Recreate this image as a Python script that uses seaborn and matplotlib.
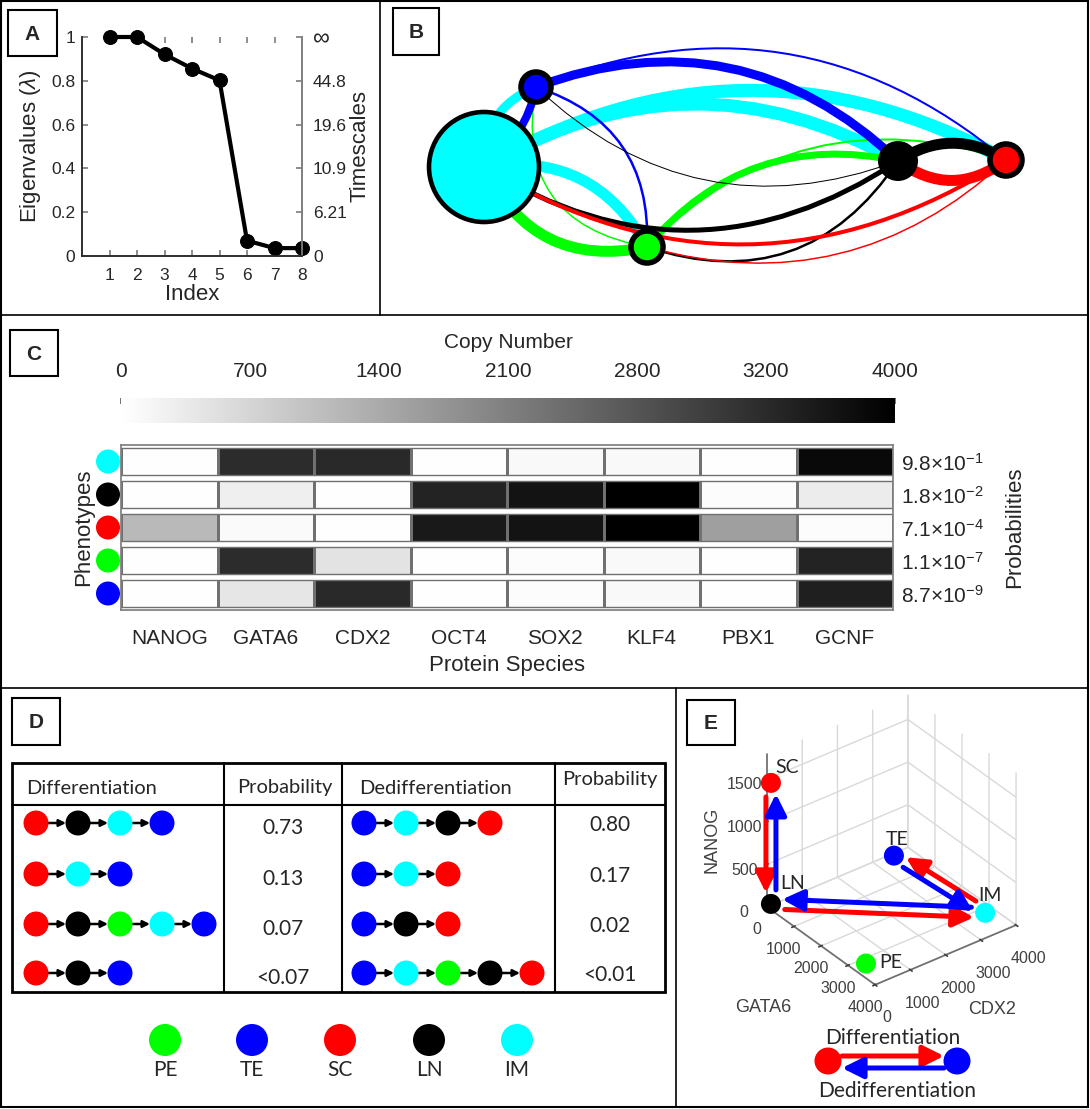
import numpy as np
import pandas as pd
import matplotlib
matplotlib.use('Agg')
import matplotlib.pyplot as plt
import seaborn as sns
from matplotlib.patches import Circle, Rectangle, PathPatch
from matplotlib.path import Path
from mpl_toolkits.mplot3d import proj3d

# ---------------- data ----------------
# A: eigenvalue spectrum
eig_index = [1, 2, 3, 4, 5, 6, 7, 8]
eigenvalues = [1.0, 1.0, 0.921, 0.856, 0.802, 0.07, 0.036, 0.036]
eig_ticks = [0, 0.2, 0.4, 0.6, 0.8, 1]
eig_ticklabels = ['0', '0.2', '0.4', '0.6', '0.8', '1']
timescale_labels = ['0', '6.21', '10.9', '19.6', '44.8', '∞']

pheno_colors = {'PE': '#00ff00', 'TE': '#0000ff', 'SC': '#ff0000',
                'LN': '#000000', 'IM': '#00ffff'}
legend_order = ['PE', 'TE', 'SC', 'LN', 'IM']

# B: transition network, edge weight = line width (px)
edge_src = ['IM', 'IM', 'IM', 'IM', 'PE', 'PE', 'PE', 'PE', 'TE', 'TE',
            'TE', 'TE', 'LN', 'LN', 'LN', 'LN', 'SC', 'SC', 'SC']
edge_dst = ['SC', 'LN', 'PE', 'TE', 'IM', 'LN', 'SC', 'TE', 'LN', 'SC',
            'PE', 'IM', 'IM', 'TE', 'PE', 'SC', 'LN', 'IM', 'PE']
edge_weight = [13, 13, 11, 9, 11, 7, 2, 1.5, 9, 2,
               2.5, 8, 5, 1, 2.5, 11, 11, 4, 1.5]
node_prob_size = {'IM': 55, 'TE': 15, 'PE': 16, 'LN': 20, 'SC': 16}

# C: copy numbers per phenotype
species = ['NANOG', 'GATA6', 'CDX2', 'OCT4', 'SOX2', 'KLF4', 'PBX1', 'GCNF']
heat_rows = ['IM', 'LN', 'SC', 'PE', 'TE']
copy_IM = [30, 3300, 3350, 30, 100, 100, 30, 3850]
copy_LN = [30, 250, 30, 3450, 3700, 4000, 60, 300]
copy_SC = [1100, 80, 30, 3600, 3700, 4000, 1500, 60]
copy_PE = [30, 3300, 450, 30, 60, 100, 30, 3450]
copy_TE = [30, 400, 3350, 30, 60, 100, 30, 3500]
prob_labels = [r'$\mathregular{9.8{\times}10^{-1}}$', r'$\mathregular{1.8{\times}10^{-2}}$',
               r'$\mathregular{7.1{\times}10^{-4}}$', r'$\mathregular{1.1{\times}10^{-7}}$',
               r'$\mathregular{8.7{\times}10^{-9}}$']
cbar_labels = ['0', '700', '1400', '2100', '2800', '3200', '4000']

# D: dominant paths
diff_paths = [['SC', 'LN', 'IM', 'TE'], ['SC', 'IM', 'TE'],
              ['SC', 'LN', 'PE', 'IM', 'TE'], ['SC', 'LN', 'TE']]
diff_probs = ['0.73', '0.13', '0.07', '<0.07']
dediff_paths = [['TE', 'IM', 'LN', 'SC'], ['TE', 'IM', 'SC'],
                ['TE', 'LN', 'SC'], ['TE', 'IM', 'PE', 'LN', 'SC']]
dediff_probs = ['0.80', '0.17', '0.02', '<0.01']

# E: phenotypes in (GATA6, CDX2, NANOG) space
e_names = ['SC', 'LN', 'IM', 'TE', 'PE']
e_gata6 = [120, 120, 3260, 160, 3270]
e_cdx2 = [20, 20, 3690, 3480, 300]
e_nanog = [1480, 60, 30, 30, 30]
diff_route = [('SC', 'LN'), ('LN', 'IM'), ('IM', 'TE')]
e_ticks = [0, 1000, 2000, 3000, 4000]
e_zticks = [0, 500, 1000, 1500]

# ---------------- layout ----------------
W, H = 1090, 1109


def px_rect(l, t, r, b):
    return [l / W, 1 - b / H, (r - l) / W, (b - t) / H]


def curve(p0, p1, bend):
    (x0, y0), (x1, y1) = p0, p1
    dx, dy = x1 - x0, y1 - y0
    cx = (x0 + x1) / 2 + bend * dy
    cy = (y0 + y1) / 2 - bend * dx
    return Path([(x0, y0), (cx, cy), (x1, y1)], [Path.MOVETO, Path.CURVE3, Path.CURVE3])


sns.set_theme(style='white')
plt.rcParams['font.family'] = ['Liberation Sans', 'DejaVu Sans']
plt.rcParams['mathtext.fontset'] = 'custom'
plt.rcParams['mathtext.rm'] = 'Liberation Sans'
plt.rcParams['mathtext.it'] = 'Liberation Sans:italic'
plt.rcParams['grid.color'] = '#d9d9d9'

fig = plt.figure(figsize=(W / 100, H / 100), dpi=100)
fig.patch.set_facecolor('white')

bg = fig.add_axes([0, 0, 1, 1], zorder=10)
bg.set_xlim(0, W)
bg.set_ylim(H, 0)
bg.axis('off')

# frames
bg.add_patch(Rectangle((1, 1), W - 3, H - 3, fill=False, lw=1.5, ec='black'))
bg.plot([1, W - 2], [315, 315], color='black', lw=1.2)
bg.plot([1, W - 2], [688, 688], color='black', lw=1.2)
bg.plot([380, 380], [1, 315], color='black', lw=1.2)
bg.plot([676, 676], [688, H - 2], color='black', lw=1.2)

panel_boxes = {'A': (8, 10, 57, 56), 'B': (393, 8, 439, 55), 'C': (10, 330, 58, 376),
               'D': (12, 698, 60, 745), 'E': (687, 700, 735, 745)}
for letter, (x0, y0, x1, y1) in panel_boxes.items():
    bg.add_patch(Rectangle((x0, y0), x1 - x0, y1 - y0, fill=False, lw=1.5, ec='black'))
    bg.text((x0 + x1) / 2, (y0 + y1) / 2 + 1, letter, ha='center', va='center',
            fontsize=15, fontweight='bold')

# ---------------- A ----------------
axA = fig.add_axes(px_rect(82, 37, 302, 256))
sns.lineplot(x=eig_index, y=eigenvalues, ax=axA, color='black', lw=3, marker='o',
             markersize=10, markeredgecolor='black', clip_on=False, zorder=5)
axA.set_xlim(0, 8)
axA.set_ylim(0, 1)
axA.set_xticks(eig_index)
axA.set_yticks(eig_ticks)
axA.set_yticklabels(eig_ticklabels)
axA.tick_params(direction='in', length=4, color='#808080', labelcolor='#262626',
                labelsize=12.5, top=True, left=True, bottom=True)
axA.tick_params(axis='x', pad=9)
axA.tick_params(axis='y', pad=5)
for s in ['left', 'bottom', 'right']:
    axA.spines[s].set_color('#808080')
axA.spines['top'].set_visible(False)
axA.set_xlabel('Index', fontsize=16, labelpad=0)
axA.set_ylabel(r'Eigenvalues ($\lambda$)', fontsize=16, labelpad=6)
axA2 = axA.twinx()
axA2.set_ylim(0, 1)
axA2.set_yticks(eig_ticks)
axA2.set_yticklabels(timescale_labels)
axA2.tick_params(direction='in', length=4, color='#808080', labelcolor='#262626',
                 labelsize=12.5, pad=8)
axA2.get_yticklabels()[-1].set_fontsize(17)
axA2.spines['top'].set_visible(False)
axA2.spines['right'].set_color('#808080')
axA2.set_ylabel('Timescales', fontsize=16, labelpad=2)

# ---------------- B ----------------
node_xy = {'IM': (484, 167), 'TE': (536, 87), 'PE': (647, 247),
           'LN': (898, 161), 'SC': (1006, 160)}
edge_bend = [0.28, 0.29, 0.35, 0.35, 0.39, 0.30, 0.31, 0.5, 0.31, 0.30,
             0.38, 0.2, 0.32, 0.31, 0.38, 0.32, 0.37, 0.31, 0.28]
for s, d, w, b in zip(edge_src, edge_dst, edge_weight, edge_bend):
    bg.add_patch(PathPatch(curve(node_xy[s], node_xy[d], b), fill=False,
                           ec=pheno_colors[s], lw=w * 0.72, capstyle='butt', zorder=1))
for n, (x, y) in node_xy.items():
    r = node_prob_size[n]
    bg.add_patch(Circle((x, y), r, fc=pheno_colors[n], ec='black',
                        lw=0 if n == 'LN' else (3.3 if n == 'IM' else 4), zorder=3))

# ---------------- C ----------------
heat = pd.DataFrame([copy_IM, copy_LN, copy_SC, copy_PE, copy_TE],
                    index=heat_rows, columns=species)
axC = fig.add_axes(px_rect(121, 445, 893, 610))
cbax = fig.add_axes(px_rect(121, 398, 895, 423))
sns.heatmap(heat, ax=axC, cmap='gray_r', vmin=0, vmax=4000, linewidths=1,
            linecolor='#707070', cbar_ax=cbax, cbar_kws={'orientation': 'horizontal'})
cbar = axC.collections[0].colorbar
cbar.set_ticks(np.linspace(0, 4000, 7))
cbar.set_ticklabels(cbar_labels)
cbax.xaxis.set_ticks_position('top')
cbax.xaxis.set_label_position('top')
cbax.tick_params(direction='in', length=4, color='#606060', labelsize=15, pad=12)
cbax.set_xlabel('Copy Number', fontsize=15, labelpad=10)
cbar.outline.set_edgecolor('#808080')

for i in range(6):
    axC.axhline(i, color='white', lw=5)
for i in range(5):
    axC.axhline(i + 0.105, color='#707070', lw=1)
    axC.axhline(i + 0.895, color='#707070', lw=1)
for s in axC.spines.values():
    s.set_visible(True)
    s.set_color('#808080')
axC.set_xticks(np.arange(len(species)) + 0.5)
axC.set_xticklabels(species, rotation=0, fontsize=15)
axC.yaxis.tick_right()
axC.yaxis.set_label_position('right')
axC.set_yticks(np.arange(len(heat_rows)) + 0.5)
axC.set_yticklabels(prob_labels, rotation=0, fontsize=15)
axC.tick_params(axis='x', top=True, bottom=False, labeltop=False, labelbottom=True,
                direction='in', length=4, color='#707070', pad=14)
axC.tick_params(axis='y', right=True, left=False, direction='in', length=4,
                color='#707070', pad=6)
axC.set_xlabel('Protein Species', fontsize=16, labelpad=5)
axC.set_ylabel('Probabilities', fontsize=16, labelpad=14)

row_y = 445 + 33 * (np.arange(len(heat_rows)) + 0.5)
bg.scatter([108] * len(heat_rows), row_y, s=(24 * 0.72) ** 2,
           c=[pheno_colors[p] for p in heat_rows], linewidths=0)
bg.text(84, 527, 'Phenotypes', rotation=90, ha='center', va='center', fontsize=16)

# ---------------- D ----------------
dfont = 'Lato'
bg.add_patch(Rectangle((12, 763), 653, 229, fill=False, lw=2, ec='black'))
for x in [224, 342, 555]:
    bg.plot([x, x], [763, 992], color='black', lw=1.5)
bg.plot([12, 665], [805, 805], color='black', lw=1.5)
bg.text(26, 788, 'Differentiation', va='center', fontsize=14.5, family=dfont)
bg.text(285, 788, 'Probability', va='center', ha='center', fontsize=14.5, family=dfont)
bg.text(359, 788, 'Dedifferentiation', va='center', fontsize=14.5, family=dfont)
bg.text(610, 779, 'Probability', va='center', ha='center', fontsize=14.5, family=dfont)

path_rows = [823, 874, 924, 973]


def draw_path(path, x0, y):
    xs = x0 + 42 * np.arange(len(path))
    bg.scatter(xs, [y] * len(path), s=(25 * 0.72) ** 2,
               c=[pheno_colors[p] for p in path], linewidths=0, zorder=4)
    for a, b in zip(xs[:-1], xs[1:]):
        bg.annotate('', xy=(b - 12, y), xytext=(a + 12, y),
                    arrowprops=dict(arrowstyle='-|>', color='black', lw=1.8,
                                    shrinkA=0, shrinkB=0, mutation_scale=10))


for i, y in enumerate(path_rows):
    draw_path(diff_paths[i], 36, y)
    draw_path(dediff_paths[i], 364, y)
    bg.text(283, y + 5, diff_probs[i], ha='center', va='center', fontsize=15, family=dfont)
    bg.text(610, y + 2, dediff_probs[i], ha='center', va='center', fontsize=15, family=dfont)

leg_x = [165, 252, 340, 429, 517]
bg.scatter(leg_x, [1040] * 5, s=(32 * 0.72) ** 2,
           c=[pheno_colors[p] for p in legend_order], linewidths=0)
for x, p in zip(leg_x, legend_order):
    bg.text(x, 1070, p, ha='center', va='center', fontsize=15, family=dfont)

# ---------------- E ----------------
ax3 = fig.add_axes(px_rect(700, 675, 1090, 1010), projection='3d')
ax3.set_proj_type('ortho')
ax3.view_init(elev=33.5, azim=-37.5)
e_aspect = (1, 1, 1.03)
zoom = 0.9
ax3.set_box_aspect(e_aspect, zoom=zoom)
ax3.scatter(e_gata6, e_cdx2, e_nanog, c=[pheno_colors[n] for n in e_names],
            s=(20 * 0.72) ** 2, depthshade=False, linewidths=0)
ax3.set_xlim(0, 4000)
ax3.set_ylim(0, 4000)
ax3.set_zlim(0, 1790)
ax3.set_xticks(e_ticks)
ax3.set_yticks(e_ticks)
ax3.set_zticks(e_zticks)
ax3.zaxis.set_ticks_position('lower')
ax3.tick_params(labelsize=11.5, colors='#404040')
ax3.xaxis.set_tick_params(pad=1)
ax3.yaxis.set_tick_params(pad=6)
for axis in [ax3.xaxis, ax3.yaxis, ax3.zaxis]:
    axis.set_pane_color((1, 1, 1, 0))
    axis.pane.set_edgecolor('#909090')
    axis.line.set_color('#707070')
ax3.patch.set_alpha(0)
bg.text(763, 1008, 'GATA6', ha='center', va='center', fontsize=13, color='#404040')
bg.text(992, 1010, 'CDX2', ha='center', va='center', fontsize=13, color='#404040')
bg.text(712, 840, 'NANOG', rotation=90, ha='center', va='center', fontsize=13, color='#404040')


def project(xs, ys, zs):
    gx, gy, _ = proj3d.proj_transform(np.asarray(xs, float), np.asarray(ys, float),
                                      np.asarray(zs, float), ax3.M)
    disp = ax3.transData.transform(np.column_stack([gx, gy]))
    return bg.transData.inverted().transform(disp)


# fit the box: GATA6 edge ~133 px long, origin corner at (767, 907)
fig.canvas.draw()
c0, c1 = project([0, 4000], [0, 0], [0, 0])
zoom *= 133.2 / np.hypot(*(c1 - c0))
ax3.set_box_aspect(e_aspect, zoom=zoom)
fig.canvas.draw()
c0 = project([0], [0], [0])[0]
p0 = ax3.get_position(original=True)
ax3.set_position([p0.x0 + (767 - c0[0]) / W, p0.y0 - (907 - c0[1]) / H, p0.width, p0.height])
fig.canvas.draw()

pos = dict(zip(e_names, project(e_gata6, e_cdx2, e_nanog)))

label_off = {'SC': (16, -15), 'TE': (3, -16), 'LN': (22, -20), 'IM': (5, -17), 'PE': (25, -1)}
for n in e_names:
    bg.text(pos[n][0] + label_off[n][0], pos[n][1] + label_off[n][1], n,
            ha='center', va='center', fontsize=14, family=dfont)


def arrow(p, q, color, side):
    p, q = np.array(p), np.array(q)
    u = (q - p) / np.linalg.norm(q - p)
    nrm = np.array([-u[1], u[0]]) * side * 5
    bg.annotate('', xy=q + nrm - u * 11, xytext=p + nrm + u * 14,
                arrowprops=dict(arrowstyle='-|>,head_width=0.45,head_length=0.9',
                                color=color, lw=3.6, shrinkA=0, shrinkB=0,
                                mutation_scale=14))


for a, b in diff_route:
    arrow(pos[a], pos[b], '#ff0000', 1)
    arrow(pos[b], pos[a], '#0000ff', 1)

# legend for E
bg.scatter([828, 957], [1061, 1061], s=(27 * 0.72) ** 2, c=['#ff0000', '#0000ff'], linewidths=0)
bg.annotate('', xy=(944, 1056), xytext=(842, 1056),
            arrowprops=dict(arrowstyle='-|>,head_width=0.45,head_length=0.9', color='#ff0000',
                            lw=3.6, shrinkA=0, shrinkB=0, mutation_scale=14))
bg.annotate('', xy=(842, 1068), xytext=(944, 1068),
            arrowprops=dict(arrowstyle='-|>,head_width=0.45,head_length=0.9', color='#0000ff',
                            lw=3.6, shrinkA=0, shrinkB=0, mutation_scale=14))
bg.text(893, 1038, 'Differentiation', ha='center', va='center', fontsize=15, family=dfont)
bg.text(897, 1091, 'Dedifferentiation', ha='center', va='center', fontsize=15, family=dfont)

fig.savefig('out.png', dpi=100)
